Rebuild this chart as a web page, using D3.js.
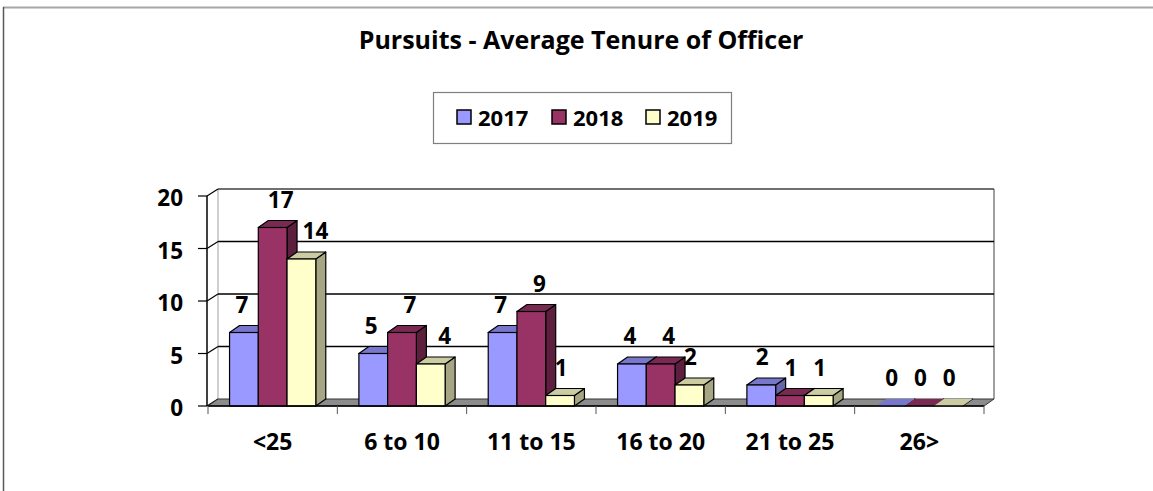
<!DOCTYPE html>
<html>
<head>
<meta charset="utf-8">
<script src="https://cdn.jsdelivr.net/npm/d3@7"></script>
<style>
  body { margin: 0; background: #fff; }
  text { font-family: "Open Sans", Lato, sans-serif; font-weight: bold; fill: #000; }
</style>
</head>
<body>
<div id="chart"></div>
<script>
// chart data
const categories = ["<25", "6 to 10", "11 to 15", "16 to 20", "21 to 25", "26>"];
const series = ["2017", "2018", "2019"];
const values2017 = [7, 5, 7, 4, 2, 0];
const values2018 = [17, 7, 9, 4, 1, 0];
const values2019 = [14, 4, 1, 2, 1, 0];
const yTicks = [0, 5, 10, 15, 20];

const seriesValues = [values2017, values2018, values2019];

// colours: front / top / side
const colors = [
    { front: "#9999ff", top: "#7777cc", side: "#6666a8" },
    { front: "#993366", top: "#7a2952", side: "#5c1f3d" },
    { front: "#ffffcc", top: "#cccca3", side: "#a6a685" }
];
const labelShift = [-2, 8, 14];

const width = 1153, height = 491;
const depth = { dx: 10, dy: 7 };

const svg = d3.select("#chart").append("svg")
    .attr("width", width)
    .attr("height", height);

// outer frame
svg.append("line").attr("x1", 3).attr("x2", width).attr("y1", 7.5).attr("y2", 7.5)
    .attr("stroke", "#a6a6a6").attr("stroke-width", 2);
svg.append("line").attr("x1", 3.5).attr("x2", 3.5).attr("y1", 7).attr("y2", height)
    .attr("stroke", "#595959").attr("stroke-width", 1.5);

// title
svg.append("text")
    .attr("x", 581).attr("y", 49)
    .attr("text-anchor", "middle")
    .style("font-size", "25px")
    .text("Pursuits - Average Tenure of Officer");

// scales
const x = d3.scaleBand().domain(categories).range([208, 984]);
const xs = d3.scaleBand().domain(series).range([0, x.bandwidth()]).paddingOuter(0.75);
const y = d3.scaleLinear().domain([0, 20]).range([406, 196]);

const x0 = x.range()[0], x1 = x.range()[1];
const y0 = y(0);

// back wall
const wall = svg.append("g");
wall.append("line")
    .attr("x1", x0 + depth.dx).attr("x2", x0 + depth.dx)
    .attr("y1", y(20) - depth.dy).attr("y2", y0 - depth.dy)
    .attr("stroke", "#a0a0a0").attr("stroke-width", 1);
wall.append("line")
    .attr("x1", x1 + depth.dx).attr("x2", x1 + depth.dx)
    .attr("y1", y(20) - depth.dy).attr("y2", y0 - depth.dy)
    .attr("stroke", "#808080").attr("stroke-width", 1.5);

wall.selectAll(".grid")
    .data(yTicks.filter(d => d > 0))
    .join("line")
    .attr("class", "grid")
    .attr("x1", x0 + depth.dx).attr("x2", x1 + depth.dx)
    .attr("y1", d => y(d) - depth.dy).attr("y2", d => y(d) - depth.dy)
    .attr("stroke", d => d === 20 ? "#404040" : "#000")
    .attr("stroke-width", 1.5);

// side-wall diagonals from the axis to the back wall
wall.selectAll(".diag")
    .data(yTicks)
    .join("line")
    .attr("class", "diag")
    .attr("x1", x0 - 1).attr("x2", x0 + depth.dx)
    .attr("y1", d => y(d)).attr("y2", d => y(d) - depth.dy)
    .attr("stroke", "#000").attr("stroke-width", 1.2);

// floor
svg.append("path")
    .attr("d", `M${x0},${y0} L${x1},${y0} L${x1 + depth.dx},${y0 - depth.dy} L${x0 + depth.dx},${y0 - depth.dy} Z`)
    .attr("fill", "#8c8c8c")
    .attr("stroke", "#333")
    .attr("stroke-width", 1);

// y axis
const yAxis = svg.append("g");
yAxis.append("line")
    .attr("x1", x0 - 1).attr("x2", x0 - 1)
    .attr("y1", y(20)).attr("y2", y0)
    .attr("stroke", "#000").attr("stroke-width", 1.5);
yAxis.selectAll(".tick")
    .data(yTicks)
    .join("line")
    .attr("x1", x0 - 10).attr("x2", x0 - 1)
    .attr("y1", d => y(d)).attr("y2", d => y(d))
    .attr("stroke", "#000").attr("stroke-width", 1.2);
yAxis.selectAll(".lbl")
    .data(yTicks)
    .join("text")
    .attr("class", "lbl")
    .attr("x", 183).attr("y", d => y(d))
    .attr("dy", "0.46em")
    .attr("text-anchor", "end")
    .style("font-size", "22.5px")
    .text(d => d);

// bars
const bars = [];
categories.forEach((c, ci) => {
    series.forEach((s, si) => {
        bars.push({ cat: c, series: s, si: si, value: seriesValues[si][ci] });
    });
});

const barG = svg.append("g")
    .selectAll("g")
    .data(bars)
    .join("g");

const left = d => x(d.cat) + xs(d.series);
const right = d => x(d.cat) + xs(d.series) + xs.bandwidth();

barG.append("path") // side
    .attr("d", d => `M${right(d)},${y0} L${right(d)},${y(d.value)} L${right(d) + depth.dx},${y(d.value) - depth.dy} L${right(d) + depth.dx},${y0 - depth.dy} Z`)
    .attr("fill", d => colors[d.si].side)
    .attr("stroke", "#000").attr("stroke-width", 1.2).attr("stroke-linejoin", "round");

barG.append("path") // top
    .attr("d", d => `M${left(d)},${y(d.value)} L${right(d)},${y(d.value)} L${right(d) + depth.dx},${y(d.value) - depth.dy} L${left(d) + depth.dx},${y(d.value) - depth.dy} Z`)
    .attr("fill", d => colors[d.si].top)
    .attr("stroke", d => d.value === 0 ? "none" : "#000").attr("stroke-width", 1.2).attr("stroke-linejoin", "round");

barG.filter(d => d.value > 0).append("rect") // front
    .attr("x", d => left(d))
    .attr("y", d => y(d.value))
    .attr("width", xs.bandwidth())
    .attr("height", d => y0 - y(d.value))
    .attr("fill", d => colors[d.si].front)
    .attr("stroke", "#000").attr("stroke-width", 1.2);

// value labels
svg.append("g")
    .selectAll("text")
    .data(bars)
    .join("text")
    .attr("x", d => left(d) + xs.bandwidth() / 2 + (d.value > 2 ? labelShift[d.si] : 1))
    .attr("y", d => y(d.value) - 20)
    .attr("text-anchor", "middle")
    .style("font-size", "22.5px")
    .text(d => d.value);

// x axis
const xAxis = svg.append("g");
xAxis.append("line")
    .attr("x1", x0).attr("x2", x1)
    .attr("y1", y0).attr("y2", y0)
    .attr("stroke", "#000").attr("stroke-width", 1.5);
xAxis.selectAll(".xt")
    .data(d3.range(categories.length + 1))
    .join("line")
    .attr("class", "xt")
    .attr("x1", i => x0 + i * x.step()).attr("x2", i => x0 + i * x.step())
    .attr("y1", y0).attr("y2", y0 + 8)
    .attr("stroke", "#555").attr("stroke-width", 1);
xAxis.selectAll(".xl")
    .data(categories)
    .join("text")
    .attr("class", "xl")
    .attr("x", d => x(d) + x.bandwidth() / 2)
    .attr("y", 450)
    .attr("text-anchor", "middle")
    .style("font-size", "23px")
    .text(d => d);

// legend
const legend = svg.append("g");
legend.append("rect")
    .attr("x", 433.5).attr("y", 92.5)
    .attr("width", 298).attr("height", 51)
    .attr("fill", "#fff")
    .attr("stroke", "#7f7f7f").attr("stroke-width", 1.2);
const legendX = [457, 552, 646];
const item = legend.selectAll(".item")
    .data(series)
    .join("g")
    .attr("class", "item")
    .attr("transform", (d, i) => `translate(${legendX[i]}, 110)`);
item.append("rect")
    .attr("width", 14).attr("height", 14)
    .attr("fill", (d, i) => colors[i].front)
    .attr("stroke", "#000").attr("stroke-width", 1.5);
item.append("text")
    .attr("x", 21).attr("y", 15.5)
    .style("font-size", "22px")
    .text(d => d);
</script>
</body>
</html>
